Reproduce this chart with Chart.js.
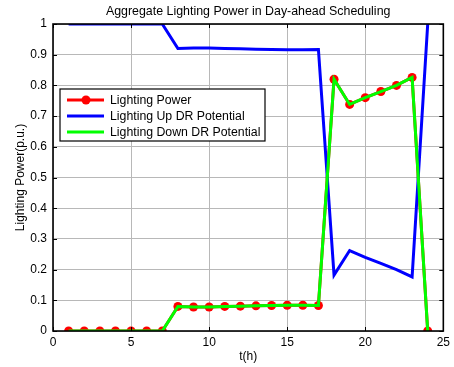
<!DOCTYPE html>
<html>
<head>
<meta charset="utf-8">
<script src="https://cdn.jsdelivr.net/npm/chart.js@4.4.1/dist/chart.umd.min.js"></script>
<style>
  html, body { margin: 0; padding: 0; background: #fff; }
  #wrap { width: 454px; height: 367px; }
</style>
</head>
<body>
<div id="wrap"><canvas id="c"></canvas></div>
<script>
// values
const hours = [1, 2, 3, 4, 5, 6, 7, 8, 9, 10, 11, 12, 13, 14, 15, 16, 17, 18, 19, 20, 21, 22, 23, 24];
const lightingPower = [0, 0, 0, 0, 0, 0, 0, 0.080, 0.078, 0.078, 0.080, 0.081, 0.082, 0.083, 0.084, 0.084, 0.083, 0.820, 0.738, 0.760, 0.780, 0.800, 0.826, 0];
const upPotential = [1, 1, 1, 1, 1, 1, 1, 0.920, 0.922, 0.922, 0.920, 0.919, 0.918, 0.917, 0.916, 0.916, 0.917, 0.182, 0.262, 0.240, 0.220, 0.200, 0.176, 1];
const downPotential = [0, 0, 0, 0, 0, 0, 0, 0.080, 0.078, 0.078, 0.080, 0.081, 0.082, 0.083, 0.084, 0.084, 0.083, 0.820, 0.738, 0.760, 0.780, 0.800, 0.826, 0];
const seriesNames = ['Lighting Power', 'Lighting Up DR Potential', 'Lighting Down DR Potential'];
const seriesColors = ['#ff0000', '#0000ff', '#00ff00'];
const xTicks = [0, 5, 10, 15, 20, 25];
const titleText = 'Aggregate Lighting Power in Day-ahead Scheduling';
const xTitle = 't(h)';
const yTitle = 'Lighting Power(p.u.)';

const FONT = 'Helvetica, "Liberation Sans", Arial, sans-serif';

const pts = arr => hours.map((h, i) => ({ x: h, y: arr[i] }));

// matlab-style box, inner ticks, title and legend
const frame = {
  id: 'frame',
  afterDraw(chart) {
    const { ctx, chartArea: a, scales } = chart;
    ctx.save();
    ctx.fillStyle = '#000';
    ctx.font = '12.4px ' + FONT;
    ctx.textAlign = 'center';
    ctx.textBaseline = 'middle';
    ctx.fillText(titleText, (a.left + a.right) / 2, 12);

    ctx.strokeStyle = '#000';
    ctx.lineWidth = 1;
    scales.x.ticks.forEach(t => {
      const px = Math.round(scales.x.getPixelForValue(t.value)) + 0.5;
      ctx.beginPath();
      ctx.moveTo(px, a.bottom); ctx.lineTo(px, a.bottom - 4);
      ctx.moveTo(px, a.top); ctx.lineTo(px, a.top + 4);
      ctx.stroke();
    });
    scales.y.ticks.forEach(t => {
      const py = Math.round(scales.y.getPixelForValue(t.value)) + 0.5;
      ctx.beginPath();
      ctx.moveTo(a.left, py); ctx.lineTo(a.left + 4, py);
      ctx.moveTo(a.right, py); ctx.lineTo(a.right - 4, py);
      ctx.stroke();
    });
    ctx.lineWidth = 1.6;
    ctx.strokeRect(a.left, a.top, a.right - a.left, a.bottom - a.top);

    // legend box
    ctx.font = '12.3px ' + FONT;
    const bx = 60, by = 89, lh = 16;
    const bw = 205, bh = 52;
    ctx.fillStyle = '#fff';
    ctx.fillRect(bx, by, bw, bh);
    ctx.lineWidth = 1.2;
    ctx.strokeStyle = '#000';
    ctx.strokeRect(bx, by, bw, bh);
    seriesNames.forEach((n, i) => {
      const y = by + 11 + i * lh;
      ctx.strokeStyle = seriesColors[i];
      ctx.lineWidth = 3;
      ctx.beginPath();
      ctx.moveTo(bx + 7, y); ctx.lineTo(bx + 44, y);
      ctx.stroke();
      if (i === 0) {
        ctx.fillStyle = seriesColors[0];
        ctx.beginPath();
        ctx.arc(bx + 26, y, 4.5, 0, Math.PI * 2);
        ctx.fill();
      }
      ctx.fillStyle = '#000';
      ctx.textAlign = 'left';
      ctx.fillText(n, bx + 50, y + 0.5);
    });
    ctx.restore();
  }
};

new Chart(document.getElementById('c'), {
  type: 'line',
  data: {
    datasets: [
      {
        label: seriesNames[0], data: pts(lightingPower), order: 3,
        borderColor: seriesColors[0], backgroundColor: seriesColors[0], borderWidth: 3,
        pointRadius: 4.5, pointBorderWidth: 0, pointBackgroundColor: seriesColors[0]
      },
      {
        label: seriesNames[1], data: pts(upPotential), order: 2,
        borderColor: seriesColors[1], borderWidth: 3, pointRadius: 0
      },
      {
        label: seriesNames[2], data: pts(downPotential), order: 1,
        borderColor: seriesColors[2], borderWidth: 3, pointRadius: 0
      }
    ]
  },
  options: {
    responsive: true,
    maintainAspectRatio: false,
    animation: false,
    events: [],
    layout: { padding: { top: 24, right: 6, left: 0, bottom: 0 } },
    plugins: { legend: { display: false }, title: { display: false }, tooltip: { enabled: false } },
    elements: { line: { tension: 0 } },
    scales: {
      x: {
        type: 'linear', min: 0, max: 25,
        afterFit: s => { s.height = 36; },
        afterBuildTicks: s => { s.ticks = xTicks.map(v => ({ value: v })); },
        ticks: { color: '#000', font: { family: FONT, size: 12 }, padding: 4 },
        grid: { color: '#b8b8b8', drawTicks: false },
        border: { display: false },
        title: { display: true, text: xTitle, color: '#000', font: { family: FONT, size: 12 }, padding: { top: 0, bottom: 3 } }
      },
      y: {
        min: 0, max: 1,
        afterFit: s => { s.width = 53; },
        ticks: {
          stepSize: 0.1, color: '#000', font: { family: FONT, size: 12 }, padding: 6,
          callback: v => String(Math.round(v * 10) / 10)
        },
        grid: { color: '#b8b8b8', drawTicks: false },
        border: { display: false },
        title: { display: true, text: yTitle, color: '#000', font: { family: FONT, size: 12 }, padding: { top: 13, bottom: 0 } }
      }
    }
  },
  plugins: [frame]
});
</script>
</body>
</html>
